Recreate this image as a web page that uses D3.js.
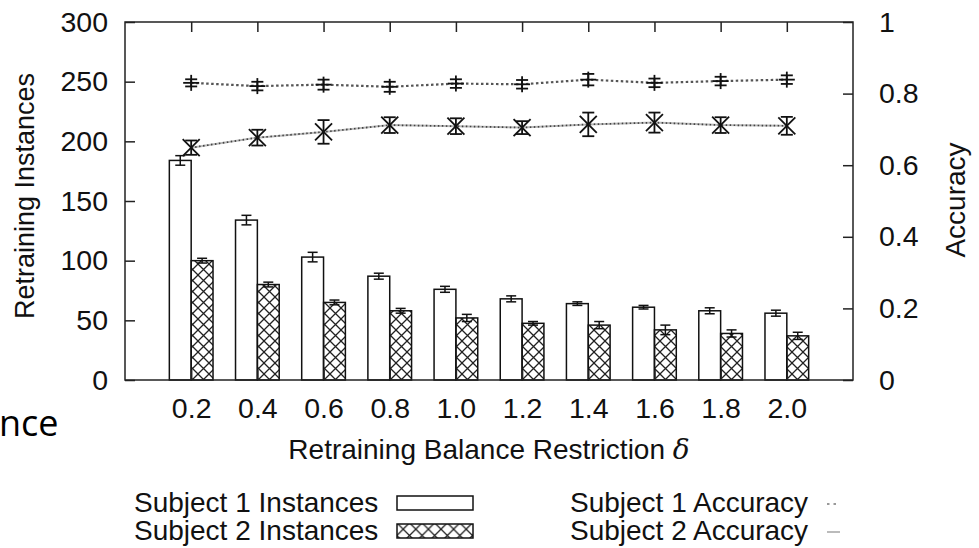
<!DOCTYPE html>
<html>
<head>
<meta charset="utf-8">
<script src="https://cdn.jsdelivr.net/npm/d3@7"></script>
<style>
  body { margin: 0; background: #fff; }
  svg text { font-family: "Liberation Sans", Arial, sans-serif; fill: #111; }
</style>
</head>
<body>
<svg id="chart" width="979" height="548"></svg>
<script>
"use strict";

// retraining balance restriction delta
let categories = [0.2, 0.4, 0.6, 0.8, 1.0, 1.2, 1.4, 1.6, 1.8, 2.0];

// retraining instances (bars)
let subject1Instances = [184, 134, 103, 87, 76, 68, 64, 61, 58, 56];
let subject1InstErr   = [4, 4, 4, 2.5, 2.5, 2.5, 1.5, 1.5, 2.5, 2.5];
let subject2Instances = [100, 80, 65, 58, 52, 47.5, 46, 42, 39, 37];
let subject2InstErr   = [2, 2, 2, 2, 3, 1.5, 3, 4, 3, 3];

// accuracy (lines, right axis)
let subject1Accuracy = [0.830, 0.821, 0.825, 0.819, 0.828, 0.826, 0.839, 0.830, 0.835, 0.839];
let subject1AccErr   = [0.010, 0.012, 0.014, 0.014, 0.012, 0.012, 0.016, 0.012, 0.012, 0.012];
let subject2Accuracy = [0.649, 0.677, 0.693, 0.712, 0.709, 0.705, 0.714, 0.719, 0.712, 0.710];
let subject2AccErr   = [0.020, 0.022, 0.033, 0.022, 0.022, 0.018, 0.033, 0.028, 0.022, 0.025];

let leftTicks = [0, 50, 100, 150, 200, 250, 300];
let rightTicks = [0, 0.2, 0.4, 0.6, 0.8, 1];

let svg = d3.select('#chart');
let plot = {left: 125, right: 853, top: 22, bottom: 380};

let x = d3.scaleLinear().domain([0, 2.2]).range([plot.left, plot.right]);
let y = d3.scaleLinear().domain([0, 300]).range([plot.bottom, plot.top]);
let yAcc = d3.scaleLinear().domain([0, 1]).range([plot.bottom, plot.top]);

let step = x(0.2) - x(0);
let barW = step * 0.33;

// cross hatch pattern
let defs = svg.append('defs');
function hatch(id, size)
{
  defs.append('pattern')
    .attr('id', id)
    .attr('patternUnits', 'userSpaceOnUse')
    .attr('width', size)
    .attr('height', size)
    .append('path')
    .attr('d', `M0,0L${size},${size}M${size},0L0,${size}`)
    .attr('stroke', '#222')
    .attr('stroke-width', 1.3)
    .attr('fill', 'none');
}
hatch('xhatch', 11);
hatch('xhatchLegend', 12.6);

let bars = svg.append('g');

function drawBars(values, errs, offset, fill)
{
  let g = bars.append('g');
  g.selectAll('rect')
    .data(values)
    .enter()
    .append('rect')
    .attr('x', (d, i) => x(categories[i]) + offset)
    .attr('y', d => y(d))
    .attr('width', barW)
    .attr('height', d => y(0) - y(d))
    .attr('fill', fill)
    .attr('stroke', '#111')
    .attr('stroke-width', 1.5);

  let e = g.selectAll('.err')
    .data(values)
    .enter()
    .append('g')
    .attr('stroke', '#111')
    .attr('stroke-width', 1.5);
  let cx = i => x(categories[i]) + offset + barW / 2;
  e.append('line')
    .attr('x1', (d, i) => cx(i)).attr('x2', (d, i) => cx(i))
    .attr('y1', (d, i) => y(d - errs[i])).attr('y2', (d, i) => y(d + errs[i]));
  e.append('line')
    .attr('x1', (d, i) => cx(i) - 5).attr('x2', (d, i) => cx(i) + 5)
    .attr('y1', (d, i) => y(d - errs[i])).attr('y2', (d, i) => y(d - errs[i]));
  e.append('line')
    .attr('x1', (d, i) => cx(i) - 5).attr('x2', (d, i) => cx(i) + 5)
    .attr('y1', (d, i) => y(d + errs[i])).attr('y2', (d, i) => y(d + errs[i]));
}

drawBars(subject1Instances, subject1InstErr, -barW, '#fff');
drawBars(subject2Instances, subject2InstErr, 0, 'url(#xhatch)');

// accuracy lines
let line = d3.line()
  .x((d, i) => x(categories[i]))
  .y(d => yAcc(d));

let lines = svg.append('g').attr('fill', 'none');

lines.append('path')
  .attr('d', line(subject2Accuracy))
  .attr('stroke', '#bbb')
  .attr('stroke-width', 2);
lines.append('path')
  .attr('d', line(subject2Accuracy))
  .attr('stroke', '#444')
  .attr('stroke-width', 1.7)
  .attr('stroke-dasharray', '1.5,2.5');
lines.append('path')
  .attr('d', line(subject1Accuracy))
  .attr('stroke', '#555')
  .attr('stroke-width', 2.2)
  .attr('stroke-dasharray', '2.5,2.5');

function drawPoints(values, errs, marker)
{
  let g = svg.append('g')
    .attr('stroke', '#111')
    .attr('stroke-width', 1.8);
  values.forEach((v, i) =>
  {
    let cx = x(categories[i]);
    let cy = yAcc(v);
    let lo = yAcc(v - errs[i]);
    let hi = yAcc(v + errs[i]);
    g.append('line').attr('x1', cx).attr('x2', cx).attr('y1', lo).attr('y2', hi);
    g.append('line').attr('x1', cx - 6).attr('x2', cx + 6).attr('y1', lo).attr('y2', lo);
    g.append('line').attr('x1', cx - 6).attr('x2', cx + 6).attr('y1', hi).attr('y2', hi);
    if (marker === 'plus')
    {
      g.append('line').attr('x1', cx - 8).attr('x2', cx + 8).attr('y1', cy).attr('y2', cy);
      g.append('line').attr('x1', cx).attr('x2', cx).attr('y1', cy - 8).attr('y2', cy + 8);
    }
    else
    {
      g.append('line').attr('x1', cx - 8.5).attr('x2', cx + 8.5).attr('y1', cy - 8.5).attr('y2', cy + 8.5);
      g.append('line').attr('x1', cx - 8.5).attr('x2', cx + 8.5).attr('y1', cy + 8.5).attr('y2', cy - 8.5);
    }
  });
}

drawPoints(subject1Accuracy, subject1AccErr, 'plus');
drawPoints(subject2Accuracy, subject2AccErr, 'cross');

// axes, ticks pointing inward
function styleAxis(g)
{
  g.select('.domain').remove();
  g.selectAll('.tick line').attr('stroke', '#222').attr('stroke-width', 1.5);
  g.selectAll('.tick text').style('font-size', '28.5px').attr('fill', '#111');
}

svg.append('g')
  .attr('transform', `translate(${plot.left},0)`)
  .call(d3.axisLeft(y).tickValues(leftTicks).tickSize(-10).tickPadding(17))
  .call(styleAxis);

svg.append('g')
  .attr('transform', `translate(${plot.right},0)`)
  .call(d3.axisRight(yAcc).tickValues(rightTicks).tickSize(-10).tickPadding(26).tickFormat(d3.format('~g')))
  .call(styleAxis);

svg.append('g')
  .attr('transform', `translate(0,${plot.bottom})`)
  .call(d3.axisBottom(x).tickValues(categories).tickSize(-10).tickPadding(18).tickFormat(d3.format('.1f')))
  .call(styleAxis);

svg.append('g')
  .attr('transform', `translate(0,${plot.top})`)
  .call(d3.axisTop(x).tickValues(categories).tickSize(-10).tickFormat(''))
  .call(styleAxis);

svg.append('rect')
  .attr('x', plot.left)
  .attr('y', plot.top)
  .attr('width', plot.right - plot.left)
  .attr('height', plot.bottom - plot.top)
  .attr('fill', 'none')
  .attr('stroke', '#222')
  .attr('stroke-width', 1.5);

// axis titles
svg.append('text')
  .attr('transform', 'translate(34,196) rotate(-90)')
  .attr('text-anchor', 'middle')
  .style('font-size', '27px')
  .text('Retraining Instances');

svg.append('text')
  .attr('transform', 'translate(965,200) rotate(-90)')
  .attr('text-anchor', 'middle')
  .style('font-size', '28px')
  .text('Accuracy');

let xTitle = svg.append('text')
  .attr('x', (plot.left + plot.right) / 2)
  .attr('y', 459)
  .attr('text-anchor', 'middle')
  .style('font-size', '28px');
xTitle.append('tspan').text('Retraining Balance Restriction ');
xTitle.append('tspan').style('font-style', 'italic').style('font-family', '"DejaVu Serif", serif').text('δ');

// legend
let legend = svg.append('g').style('font-size', '28px');
legend.append('text').attr('x', 134).attr('y', 512).text('Subject 1 Instances');
legend.append('text').attr('x', 134).attr('y', 540).text('Subject 2 Instances');
legend.append('rect')
  .attr('x', 397).attr('y', 496).attr('width', 76).attr('height', 14)
  .attr('fill', '#fff').attr('stroke', '#111').attr('stroke-width', 1.5);
legend.append('rect')
  .attr('x', 397).attr('y', 524).attr('width', 76).attr('height', 14)
  .attr('fill', 'url(#xhatchLegend)').attr('stroke', '#111').attr('stroke-width', 1.5);

legend.append('text').attr('x', 570).attr('y', 512).text('Subject 1 Accuracy');
legend.append('text').attr('x', 570).attr('y', 540).text('Subject 2 Accuracy');
legend.append('line')
  .attr('x1', 827).attr('x2', 838).attr('y1', 504).attr('y2', 504)
  .attr('stroke', '#999').attr('stroke-width', 2).attr('stroke-dasharray', '2.5,4');
legend.append('line')
  .attr('x1', 827).attr('x2', 840).attr('y1', 532).attr('y2', 532)
  .attr('stroke', '#bbb').attr('stroke-width', 2);

// clipped text fragment at the left edge
svg.append('text')
  .attr('x', -1)
  .attr('y', 436)
  .style('font-family', '"Open Sans", "Noto Sans", sans-serif')
  .style('font-size', '36px')
  .style('fill', '#000')
  .text('nce');
</script>
</body>
</html>
